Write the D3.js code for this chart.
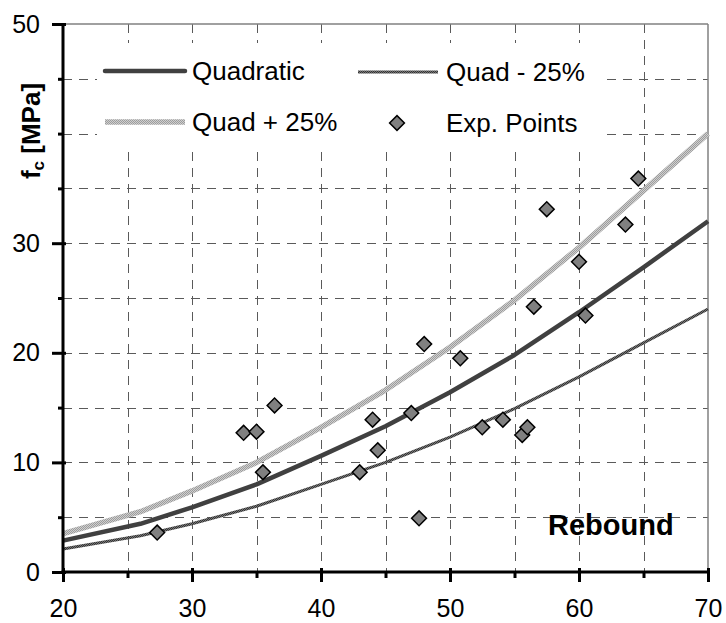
<!DOCTYPE html>
<html><head><meta charset="utf-8">
<script src="https://cdn.jsdelivr.net/npm/d3@7"></script>
<style>
html,body{margin:0;padding:0;background:#fff;}
svg{display:block;font-family:"Liberation Sans",Arial,sans-serif;}
</style></head>
<body>
<svg id="chart" width="726" height="623"></svg>
<script>
// ---- data ----
const curveR     = [20, 26, 30, 35, 40, 45, 50, 55, 60, 65, 70];
const quadratic  = [2.86, 4.4, 5.9, 8.0, 10.6, 13.3, 16.4, 19.8, 23.7, 27.8, 32.0];
const quadPlus25 = [3.5, 5.5, 7.4, 10.0, 13.2, 16.6, 20.5, 24.8, 29.6, 34.8, 40.0];
const quadMinus25= [2.1, 3.3, 4.4, 6.0, 8.0, 10.0, 12.3, 14.9, 17.8, 20.9, 24.0];

const expR  = [27.3, 34.0, 35.0, 36.4, 35.5, 43.0, 44.0, 44.4, 47.0, 48.0, 47.6, 50.8, 52.5, 54.1, 55.6, 56.0, 56.5, 60.5, 60.0, 57.5, 63.6, 64.6];
const expFc = [3.6, 12.7, 12.8, 15.2, 9.1, 9.1, 13.9, 11.1, 14.5, 20.8, 4.9, 19.5, 13.2, 13.9, 12.5, 13.2, 24.2, 23.4, 28.3, 33.1, 31.7, 35.9];

const xMajor = [20, 30, 40, 50, 60, 70];
const xMinor = [25, 35, 45, 55, 65];
const yLabeled = [0, 10, 20, 30, 50];
const yMinor = [5, 15, 25, 35, 40, 45];
const gridX = [25, 30, 35, 40, 45, 50, 55, 60, 65];
const gridY = [5, 10, 15, 20, 25, 30, 35, 40, 45];

const legendItems = [
  {name: "Quadratic", kind: "quad"},
  {name: "Quad - 25%", kind: "minus"},
  {name: "Quad + 25%", kind: "plus"},
  {name: "Exp. Points", kind: "pts"}
];

// ---- layout ----
const svg = d3.select("#chart");
const x = d3.scaleLinear().domain([20, 70]).range([63, 708]);
const y = d3.scaleLinear().domain([0, 50]).range([572, 24]);

const defs = svg.append("defs");
function checker(id, base, dot) {
  const p = defs.append("pattern").attr("id", id).attr("patternUnits", "userSpaceOnUse")
    .attr("width", 2).attr("height", 2);
  p.append("rect").attr("width", 2).attr("height", 2).attr("fill", base);
  p.append("rect").attr("x", 0).attr("y", 0).attr("width", 1).attr("height", 1).attr("fill", dot);
  p.append("rect").attr("x", 1).attr("y", 1).attr("width", 1).attr("height", 1).attr("fill", dot);
}
checker("plusTex", "#cfcfcf", "#9c9c9c");
checker("minusTex", "#767676", "#333333");

const styles = {
  quad:  {stroke: "#404040", width: 4.5},
  plus:  {stroke: "url(#plusTex)", width: 5.5},
  minus: {stroke: "url(#minusTex)", width: 3}
};

// grid
const grid = svg.append("g").attr("stroke", "#5a5a5a").attr("stroke-width", 1)
  .attr("stroke-dasharray", "9,7").attr("fill", "none");
grid.selectAll(".gx").data(gridX).join("line")
  .attr("x1", d => Math.round(x(d)) + 0.5).attr("x2", d => Math.round(x(d)) + 0.5)
  .attr("y1", y(50)).attr("y2", y(0));
grid.selectAll(".gy").data(gridY).join("line")
  .attr("y1", d => Math.round(y(d)) + 0.5).attr("y2", d => Math.round(y(d)) + 0.5)
  .attr("x1", x(20)).attr("x2", x(70));

// frame (top, right)
svg.append("line").attr("x1", x(20)).attr("x2", x(70)).attr("y1", y(50)).attr("y2", y(50))
  .attr("stroke", "#808080").attr("stroke-width", 1.5);
svg.append("line").attr("x1", x(70)).attr("x2", x(70)).attr("y1", y(50)).attr("y2", y(0))
  .attr("stroke", "#808080").attr("stroke-width", 1.5);

// legend background
svg.append("rect").attr("x", 97).attr("y", 43).attr("width", 503).attr("height", 104).attr("fill", "#fff");

// curves
const line = d3.line().x(d => x(d[0])).y(d => y(d[1]));
const series = [
  {kind: "plus", vals: quadPlus25},
  {kind: "minus", vals: quadMinus25},
  {kind: "quad", vals: quadratic}
];
series.forEach(s => {
  svg.append("path").datum(curveR.map((r, i) => [r, s.vals[i]]))
    .attr("d", line).attr("fill", "none")
    .attr("stroke", styles[s.kind].stroke).attr("stroke-width", styles[s.kind].width)
    .attr("stroke-linejoin", "round");
});

// points
const diamond = d3.symbol(d3.symbolSquare, 110);
svg.append("g").selectAll("path").data(expR.map((r, i) => [r, expFc[i]])).join("path")
  .attr("d", diamond)
  .attr("transform", d => `translate(${x(d[0])},${y(d[1])}) rotate(45)`)
  .attr("fill", "#808080").attr("stroke", "#000").attr("stroke-width", 1.5);

// legend
const legPos = [
  {lx: 105, ly: 71, tx: 192},
  {lx: 358, ly: 72, tx: 446},
  {lx: 105, ly: 122, tx: 192},
  {lx: 358, ly: 123, tx: 446}
];
legendItems.forEach((it, i) => {
  const p = legPos[i];
  if (it.kind === "pts") {
    svg.append("path").attr("d", diamond)
      .attr("transform", `translate(397,${p.ly}) rotate(45)`)
      .attr("fill", "#808080").attr("stroke", "#000").attr("stroke-width", 1.5);
  } else {
    svg.append("line").attr("x1", p.lx).attr("x2", p.lx + 80).attr("y1", p.ly).attr("y2", p.ly)
      .attr("stroke", styles[it.kind].stroke).attr("stroke-width", styles[it.kind].width)
      .attr("stroke-linecap", it.kind === "quad" ? "round" : "butt");
  }
  svg.append("text").attr("x", p.tx).attr("y", p.ly + 9).attr("font-size", 26)
    .attr("fill", "#000").text(it.name);
});

// axes
function styleAxis(g) {
  g.select(".domain").remove();
  g.selectAll("line").attr("stroke", "#000").attr("stroke-width", 3);
}
svg.append("g").attr("transform", `translate(0,${y(0)})`)
  .call(d3.axisBottom(x).tickValues(xMinor).tickSize(6).tickFormat(""))
  .call(styleAxis);
const xa = svg.append("g").attr("transform", `translate(0,${y(0)})`)
  .call(d3.axisBottom(x).tickValues(xMajor).tickSize(10).tickPadding(17).tickFormat(d3.format("d")))
  .call(styleAxis);
xa.selectAll("line").attr("y1", -4);
xa.selectAll("text").attr("font-size", 25).attr("fill", "#000")
  .attr("font-family", "Liberation Sans, Arial, sans-serif").attr("dy", "0.71em");

svg.append("g").attr("transform", `translate(${x(20)},0)`)
  .call(d3.axisLeft(y).tickValues(yMinor).tickSize(5).tickFormat(""))
  .call(styleAxis);
const ya = svg.append("g").attr("transform", `translate(${x(20)},0)`)
  .call(d3.axisLeft(y).tickValues(yLabeled).tickSize(11).tickPadding(12).tickFormat(d3.format("d")))
  .call(styleAxis);
ya.selectAll("line").attr("x1", 3);
ya.selectAll("text").attr("font-size", 25).attr("fill", "#000")
  .attr("font-family", "Liberation Sans, Arial, sans-serif");

svg.append("line").attr("x1", x(20)).attr("x2", x(20)).attr("y1", y(50) - 1).attr("y2", y(0) + 1.5)
  .attr("stroke", "#000").attr("stroke-width", 3);
svg.append("line").attr("x1", x(20) - 1.5).attr("x2", x(70) + 1.5).attr("y1", y(0)).attr("y2", y(0))
  .attr("stroke", "#000").attr("stroke-width", 3);

// axis titles
const yt = svg.append("text").attr("transform", "translate(40,131) rotate(-90)")
  .attr("text-anchor", "middle").attr("font-size", 26).attr("font-weight", "bold").attr("fill", "#000");
yt.append("tspan").text("f");
yt.append("tspan").attr("font-size", 17).attr("dy", 4).text("c");
yt.append("tspan").attr("dy", -4).text(" [MPa]");

svg.append("text").attr("x", 548).attr("y", 535).attr("font-size", 29).attr("font-weight", "bold")
  .attr("fill", "#000").text("Rebound");
</script>
</body></html>
